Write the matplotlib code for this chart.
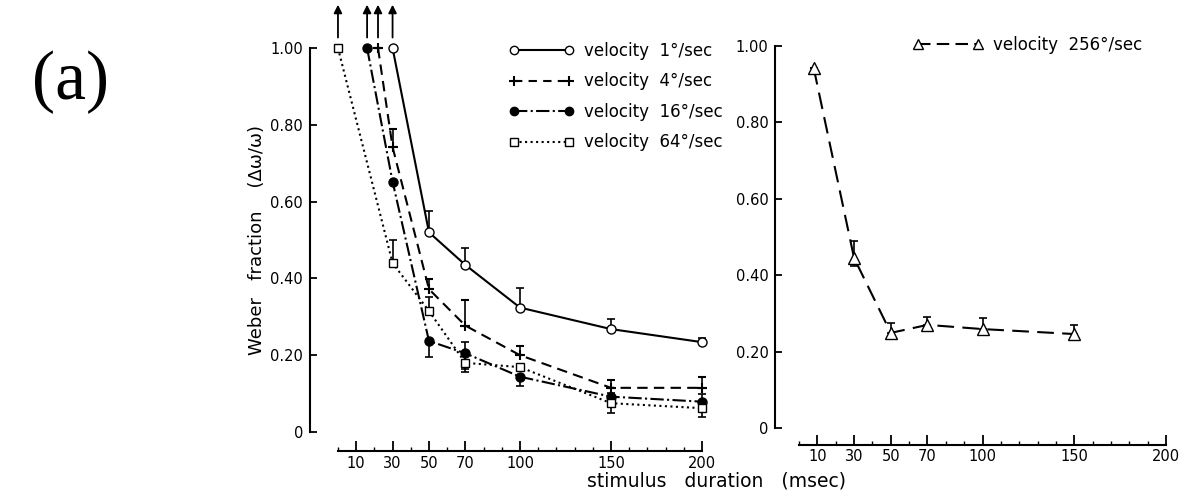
import matplotlib.pyplot as plt
from matplotlib.lines import Line2D

plt.rcParams['font.family'] = ['DejaVu Sans']

# left panel data (stimulus duration in msec, Weber fraction)
x1 = [30, 50, 70, 100, 150, 200]
y1 = [1.00, 0.52, 0.435, 0.324, 0.268, 0.234]
e1_lo = [0, 0, 0, 0, 0, 0]
e1_hi = [0, 0.055, 0.045, 0.052, 0.026, 0.01]

x4 = [22, 30, 50, 70, 100, 150, 200]
y4 = [1.00, 0.742, 0.372, 0.277, 0.20, 0.115, 0.115]
e4_lo = [0, 0, 0, 0, 0, 0, 0]
e4_hi = [0, 0.048, 0.026, 0.067, 0.024, 0.02, 0.028]

x16 = [16, 30, 50, 70, 100, 150, 200]
y16 = [1.00, 0.652, 0.237, 0.205, 0.144, 0.092, 0.079]
e16_lo = [0, 0, 0.041, 0.04, 0.024, 0.01, 0.039]
e16_hi = [0, 0, 0, 0.03, 0, 0.01, 0.02]

x64 = [0, 30, 50, 70, 100, 150, 200]
y64 = [1.00, 0.44, 0.315, 0.18, 0.169, 0.075, 0.062]
e64_lo = [0, 0, 0, 0.023, 0, 0.025, 0.01]
e64_hi = [0, 0.06, 0.037, 0.02, 0, 0, 0]

# right panel data
x256 = [8, 30, 50, 70, 100, 150]
y256 = [0.942, 0.445, 0.249, 0.27, 0.259, 0.246]
e256_lo = [0, 0.02, 0, 0, 0, 0]
e256_hi = [0, 0.045, 0.026, 0.02, 0.029, 0.024]

# points lying above 1.00 (marked with arrows)
arrow_x = [0, 16, 22, 30]

xticks = [10, 30, 50, 70, 100, 150, 200]
yticks = [0, 0.2, 0.4, 0.6, 0.8, 1.0]
ylabels = ['0', '0.20', '0.40', '0.60', '0.80', '1.00']

fig = plt.figure(figsize=(11.85, 4.97), dpi=100)
ax = fig.add_axes([0.2852, 0.1308, 0.3072, 0.7726])
ax2 = fig.add_axes([0.6743, 0.1388, 0.3097, 0.7686])

def style(a, off_left, off_bottom):
    a.set_xlim(0, 200)
    a.set_ylim(0, 1.0)
    for s in ['top', 'right']:
        a.spines[s].set_visible(False)
    a.spines['left'].set_position(('outward', off_left))
    a.spines['bottom'].set_position(('outward', off_bottom))
    a.spines['left'].set_linewidth(1.5)
    a.spines['bottom'].set_linewidth(1.5)
    a.set_xticks(xticks)
    a.set_xticks(range(0, 201, 10), minor=True)
    a.set_yticks(yticks)
    a.set_yticklabels(ylabels)
    a.tick_params(direction='in', length=5, width=1.3, labelsize=10.5, pad=5)
    a.tick_params(axis='x', which='major', length=7, pad=3)
    a.tick_params(axis='x', which='minor', direction='in', length=3, width=1)
    a.patch.set_visible(False)

style(ax, 20, 14)
style(ax2, 17, 12)

kw = dict(color='black', capsize=3, elinewidth=1.2, capthick=1.2, lw=1.5, clip_on=False)
ax.errorbar(x1, y1, yerr=[e1_lo, e1_hi], fmt='o-', mfc='white', ms=6.5, **kw)
ax.errorbar(x4, y4, yerr=[e4_lo, e4_hi], fmt='+--', ms=7, mew=1.5, dashes=(5, 3), **kw)
ax.errorbar(x16, y16, yerr=[e16_lo, e16_hi], fmt='o-.', ms=6.5, **kw)
ax.errorbar(x64, y64, yerr=[e64_lo, e64_hi], fmt='s:', mfc='white', ms=6, **kw)

for xa in arrow_x:
    ax.annotate('', xy=(xa, 1.12), xytext=(xa, 1.02), annotation_clip=False,
                arrowprops=dict(arrowstyle='-|>', color='black', lw=1.3, mutation_scale=12))

handles = [
    Line2D([], [], color='black', lw=1.5, marker='o', mfc='white', ms=6),
    Line2D([], [], color='black', lw=1.5, marker='+', ms=7, mew=1.5, dashes=(4, 3)),
    Line2D([], [], color='black', lw=1.5, marker='o', ms=6, linestyle='-.'),
    Line2D([], [], color='black', lw=1.5, marker='s', mfc='white', ms=5.5, linestyle=':'),
]
labels = ['velocity  1°/sec', 'velocity  4°/sec', 'velocity  16°/sec', 'velocity  64°/sec']
ax.legend(handles, labels, loc='upper left', bbox_to_anchor=(0.43, 1.055), frameon=False,
          numpoints=2, handlelength=3.9, labelspacing=0.75, fontsize=12, handletextpad=0.6)

h256 = Line2D([], [], color='black', lw=1.5, marker='^', mfc='white', ms=7.5, dashes=(6, 3))
ax2.legend([h256], ['velocity  256°/sec'], loc='upper left', bbox_to_anchor=(0.27, 1.065),
           frameon=False, numpoints=2, handlelength=4.2, fontsize=12, handletextpad=0.6)
ax2.errorbar(x256, y256, yerr=[e256_lo, e256_hi], fmt='^--', mfc='white', ms=8,
             dashes=(8, 4), **kw)

ax.set_ylabel('Weber   fraction    (Δω/ω)', fontsize=13, labelpad=3)
fig.text(0.605, 0.022, 'stimulus   duration   (msec)', fontsize=13.5, ha='center')
fig.text(0.027, 0.80, '(a)', fontsize=50, family='Liberation Serif')

fig.savefig('out.png', dpi=100)
